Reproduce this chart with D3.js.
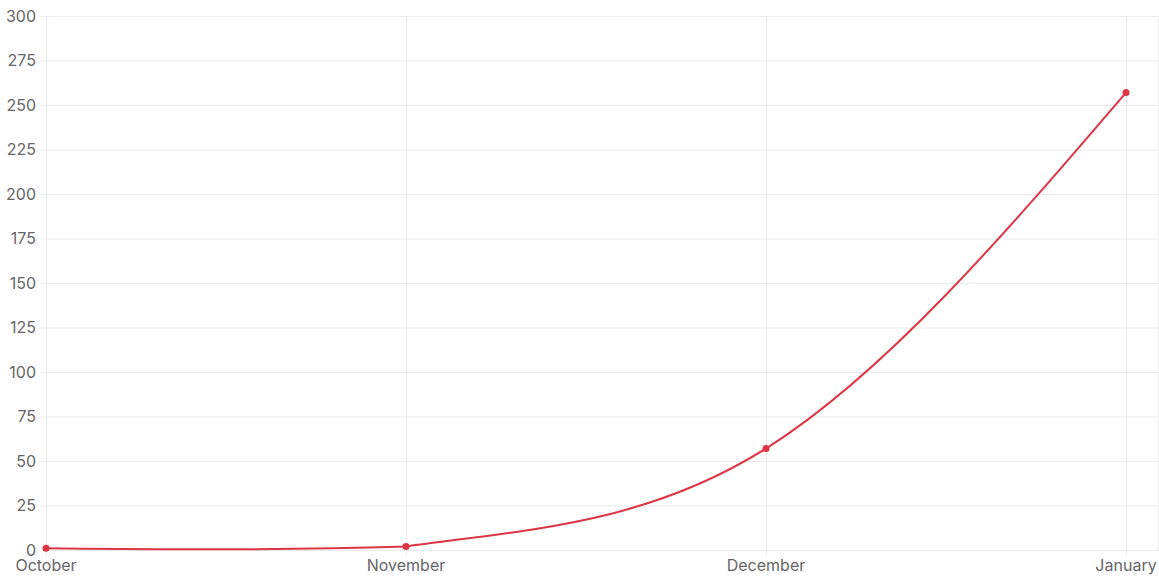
<!DOCTYPE html>
<html>
<head>
<meta charset="utf-8">
<script src="https://cdn.jsdelivr.net/npm/d3@7/dist/d3.min.js"></script>
<style>
  body { margin: 0; background: #fff; }
  svg text { font-family: Inter, "Noto Sans", sans-serif; }
</style>
</head>
<body>
<svg id="chart" width="1159" height="579"></svg>
<script>
const months = ['October', 'November', 'December', 'January']
const counts = [1, 2, 57, 257]
const yTicks = [0, 25, 50, 75, 100, 125, 150, 175, 200, 225, 250, 275, 300]

const lineColor = '#dc3545'
const gridColor = '#ebebeb'

const svg = d3.select('#chart')
const plotLeft = 46, plotRight = 1126, plotTop = 16, plotBottom = 550

const x = d3.scalePoint().domain(months).range([plotLeft, plotRight])
const y = d3.scaleLinear().domain([0, 300]).range([plotBottom, plotTop])

// horizontal grid + y ticks
svg.append('g')
  .selectAll('line')
  .data(yTicks)
  .enter()
  .append('line')
  .attr('x1', plotLeft - 5)
  .attr('x2', 1159)
  .attr('y1', d => y(d) + 0.5)
  .attr('y2', d => y(d) + 0.5)
  .attr('stroke', gridColor)

// vertical grid
svg.append('g')
  .selectAll('line')
  .data(months)
  .enter()
  .append('line')
  .attr('x1', d => x(d) + 0.5)
  .attr('x2', d => x(d) + 0.5)
  .attr('y1', plotTop)
  .attr('y2', plotBottom + 5)
  .attr('stroke', gridColor)

svg.append('line')
  .attr('x1', 1158.5).attr('x2', 1158.5)
  .attr('y1', plotTop).attr('y2', plotBottom)
  .attr('stroke', gridColor)

svg.append('g')
  .selectAll('text')
  .data(yTicks)
  .enter()
  .append('text')
  .attr('x', plotLeft - 10)
  .attr('y', d => y(d))
  .attr('dy', '0.35em')
  .attr('text-anchor', 'end')
  .attr('font-size', 16)
  .attr('fill', '#666')
  .text(d => d)

svg.append('g')
  .selectAll('text')
  .data(months)
  .enter()
  .append('text')
  .attr('x', d => x(d))
  .attr('y', plotBottom + 21)
  .attr('text-anchor', 'middle')
  .attr('font-size', 16)
  .attr('fill', '#666')
  .text(d => d)

// smooth curve: centred tangents inside, end tangents from neighbour,
// control points kept inside the plot area
function smoothPath(pts) {
  let n = pts.length
  let clampY = v => Math.max(plotTop, Math.min(plotBottom, v))
  let slope = (a, b) => (b[1] - a[1]) / (b[0] - a[0])
  let tan = pts.map((p, i) => {
    if (i == 0 || i == n - 1) return null
    return slope(pts[i - 1], pts[i + 1])
  })
  tan[0] = (3 * slope(pts[0], pts[1]) - tan[1]) / 2
  tan[n - 1] = (3 * slope(pts[n - 2], pts[n - 1]) - tan[n - 2]) / 2

  let path = d3.path()
  path.moveTo(pts[0][0], pts[0][1])
  for (let i = 1; i < n; i++) {
    let a = pts[i - 1], b = pts[i]
    let h = (b[0] - a[0]) / 3
    path.bezierCurveTo(
      a[0] + h, clampY(a[1] + h * tan[i - 1]),
      b[0] - h, clampY(b[1] - h * tan[i]),
      b[0], b[1])
  }
  return path.toString()
}

let points = counts.map((d, i) => [x(months[i]), y(d)])

svg.append('path')
  .attr('d', smoothPath(points))
  .attr('fill', 'none')
  .attr('stroke', lineColor)
  .attr('stroke-width', 2)

svg.append('g')
  .selectAll('circle')
  .data(counts)
  .enter()
  .append('circle')
  .attr('cx', (d, i) => x(months[i]))
  .attr('cy', d => y(d))
  .attr('r', 3.5)
  .attr('fill', lineColor)
</script>
</body>
</html>
